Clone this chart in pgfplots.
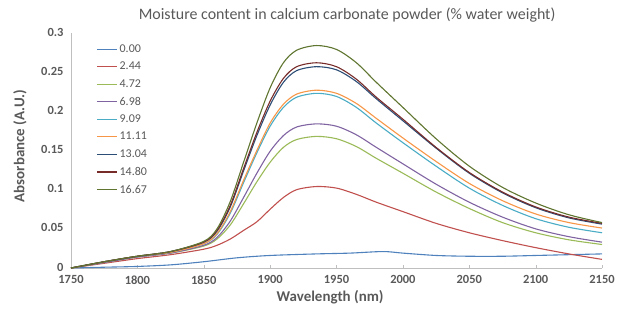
\documentclass[border=0pt]{standalone}
\usepackage{fontspec}
\setmainfont{Carlito}
\usepackage{pgfplots}
\pgfplotsset{compat=1.18}
\definecolor{c0}{HTML}{4F81BD}
\definecolor{c1}{HTML}{C0504D}
\definecolor{c2}{HTML}{9BBB59}
\definecolor{c3}{HTML}{8064A2}
\definecolor{c4}{HTML}{4BACC6}
\definecolor{c5}{HTML}{F79646}
\definecolor{c6}{HTML}{2C4D75}
\definecolor{c7}{HTML}{772C2A}
\definecolor{c8}{HTML}{5F7530}
\definecolor{txt}{HTML}{595959}
\definecolor{axl}{HTML}{BFBFBF}
\begin{document}
\begin{tikzpicture}
\path[use as bounding box] (-71bp,-41bp) rectangle (556bp,268bp);
\begin{axis}[
  scale only axis, width=531bp, height=235bp,
  xmin=1750, xmax=2150, ymin=0, ymax=0.3,
  xtick={1750,1800,...,2150},
  ytick={0,0.05,0.1,0.15,0.2,0.25,0.3},
  yticklabels={0,0.05,0.1,0.15,0.2,0.25,0.3},
  xticklabels={1750,1800,1850,1900,1950,2000,2050,2100,2150},
  axis x line*=bottom, axis y line*=left,
  axis line style={axl, -},
  xtick style={axl}, ytick style={draw=none},
  tick align=inside, major tick length=3bp,
  ticklabel style={font=\fontsize{12.5}{14}\selectfont\bfseries, text=txt},
  /pgf/number format/assume math mode=true,
  yticklabel style={xshift=-4bp, yshift=1bp},
  xticklabel style={yshift=-4bp},
  xlabel={\textbf{Wavelength (nm)}},
  ylabel={\textbf{Absorbance (A.U.)}},
  label style={font=\fontsize{15}{17}\selectfont, text=txt},
  xlabel style={at={(rel axis cs:0.488,0)}, anchor=center, yshift=-29bp},
  ylabel style={at={(rel axis cs:0,0.52)}, anchor=center, yshift=51bp},
  legend style={at={(rel axis cs:0.042,0.968)}, anchor=north west, draw=none, fill=none,
    font=\fontsize{12}{14}\selectfont, text=txt, row sep=4.2bp,
    /tikz/every even column/.append style={column sep=0bp}},
  legend cell align=left,
  legend image code/.code={\draw[#1, line width=1.2bp] (0bp,0bp) -- (20bp,0bp);},
  every axis plot/.append style={line width=1.1bp, smooth, no marks},
  clip=false,
]
\addplot[c0] coordinates {(1750,0) (1775,0.001) (1800,0.002) (1825,0.004) (1850,0.008) (1875,0.013) (1900,0.016) (1935,0.018) (1960,0.019) (1985,0.021) (2000,0.019) (2025,0.016) (2050,0.015) (2075,0.015) (2100,0.016) (2125,0.017) (2150,0.018)};
\addlegendentry{0.00}
\addplot[c1] coordinates {(1750,0) (1775,0.006) (1800,0.012) (1825,0.017) (1850,0.024) (1860,0.029) (1870,0.037) (1880,0.048) (1890,0.059) (1900,0.075) (1910,0.090) (1920,0.100) (1935,0.104) (1950,0.102) (1965,0.094) (1980,0.084) (2000,0.072) (2025,0.057) (2050,0.045) (2075,0.035) (2100,0.026) (2125,0.018) (2150,0.011)};
\addlegendentry{2.44}
\addplot[c2] coordinates {(1750,0) (1775,0.007) (1800,0.014) (1825,0.019) (1850,0.028) (1860,0.037) (1870,0.055) (1880,0.082) (1890,0.110) (1900,0.135) (1910,0.154) (1920,0.164) (1935,0.168) (1950,0.165) (1965,0.155) (1980,0.140) (2000,0.121) (2025,0.097) (2050,0.076) (2075,0.058) (2100,0.045) (2125,0.036) (2150,0.030)};
\addlegendentry{4.72}
\addplot[c3] coordinates {(1750,0) (1775,0.007) (1800,0.014) (1825,0.019) (1850,0.029) (1860,0.039) (1870,0.060) (1880,0.090) (1890,0.121) (1900,0.149) (1910,0.169) (1920,0.180) (1935,0.184) (1950,0.181) (1965,0.170) (1980,0.154) (2000,0.133) (2025,0.107) (2050,0.084) (2075,0.065) (2100,0.050) (2125,0.040) (2150,0.033)};
\addlegendentry{6.98}
\addplot[c4] coordinates {(1750,0) (1775,0.008) (1800,0.015) (1825,0.020) (1850,0.031) (1860,0.043) (1870,0.070) (1880,0.109) (1890,0.147) (1900,0.181) (1910,0.205) (1920,0.218) (1935,0.223) (1950,0.219) (1965,0.205) (1980,0.185) (2000,0.160) (2025,0.130) (2050,0.102) (2075,0.080) (2100,0.063) (2125,0.052) (2150,0.045)};
\addlegendentry{9.09}
\addplot[c5] coordinates {(1750,0) (1775,0.008) (1800,0.015) (1825,0.020) (1850,0.031) (1860,0.044) (1870,0.072) (1880,0.112) (1890,0.150) (1900,0.185) (1910,0.209) (1920,0.222) (1935,0.227) (1950,0.223) (1965,0.210) (1980,0.191) (2000,0.166) (2025,0.136) (2050,0.108) (2075,0.086) (2100,0.069) (2125,0.058) (2150,0.051)};
\addlegendentry{11.11}
\addplot[c6] coordinates {(1750,0) (1775,0.008) (1800,0.015) (1825,0.021) (1850,0.033) (1860,0.047) (1870,0.078) (1880,0.124) (1890,0.169) (1900,0.208) (1910,0.237) (1920,0.252) (1935,0.257) (1950,0.253) (1965,0.238) (1980,0.216) (2000,0.188) (2025,0.153) (2050,0.121) (2075,0.096) (2100,0.077) (2125,0.064) (2150,0.056)};
\addlegendentry{13.04}
\addplot[c7] coordinates {(1750,0) (1775,0.008) (1800,0.015) (1825,0.021) (1850,0.033) (1860,0.048) (1870,0.080) (1880,0.127) (1890,0.173) (1900,0.213) (1910,0.242) (1920,0.257) (1935,0.262) (1950,0.257) (1965,0.241) (1980,0.218) (2000,0.190) (2025,0.154) (2050,0.122) (2075,0.097) (2100,0.078) (2125,0.065) (2150,0.057)};
\addlegendentry{14.80}
\addplot[c8] coordinates {(1750,0) (1775,0.008) (1800,0.015) (1825,0.021) (1850,0.034) (1860,0.050) (1870,0.085) (1880,0.135) (1890,0.185) (1900,0.230) (1910,0.262) (1920,0.278) (1935,0.284) (1950,0.279) (1965,0.262) (1980,0.237) (2000,0.205) (2025,0.165) (2050,0.130) (2075,0.103) (2100,0.083) (2125,0.068) (2150,0.058)};
\addlegendentry{16.67}
\node[font=\fontsize{16}{18}\selectfont, text=txt] at (rel axis cs:0.52,1) [yshift=18bp] {Moisture content in calcium carbonate powder (\% water weight)};
\end{axis}
\end{tikzpicture}
\end{document}
